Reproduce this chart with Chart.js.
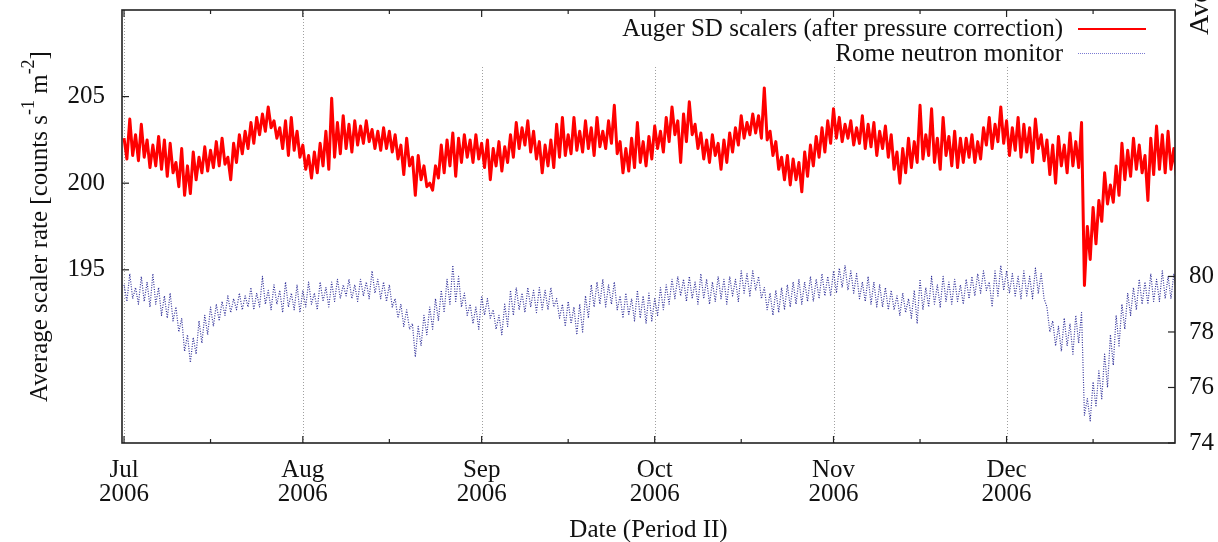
<!DOCTYPE html>
<html>
<head>
<meta charset="utf-8">
<title>Auger SD scalers and Rome neutron monitor, period II</title>
<script src="https://cdn.jsdelivr.net/npm/chart.js@4.4.1/dist/chart.umd.min.js"></script>
<style>
  html, body { margin: 0; padding: 0; background: #fff; }
  #wrap { width: 1218px; height: 542px; }
</style>
</head>
<body>
<div id="wrap"><canvas id="scalerChart" width="1218" height="542"></canvas></div>
<script>
// ===== DATA =====
// one sample every half day, day 0 = 2006-07-01
const sampleStep = 0.5;

// Auger SD scaler rate, counts s^-1 m^-2 (left axis)
const augerRate = [
  202.6,201.4, 203.7,201.6, 202.8,201.3, 203.4,201.5, 202.5,200.9, 202.2,201.0, 202.7,200.8, 202.5,200.4, 202.3,200.6, 201.2,199.8,
  202.0,199.3, 201.0,199.4, 201.8,200.2, 201.5,200.6, 202.1,200.7, 201.9,200.9, 202.4,201.0, 202.6,201.1, 201.5,200.2, 202.3,201.2,
  202.8,201.7, 203.0,202.0, 203.5,202.3, 203.8,202.8, 204.0,203.0, 204.4,203.2, 203.6,202.6, 203.2,202.0, 203.6,201.6, 203.8,201.9,
  203.0,201.5, 202.2,200.8, 201.6,200.3, 201.8,200.6, 202.3,201.0, 203.0,200.8, 204.9,201.5, 203.5,201.7, 203.9,202.0, 203.4,201.8,
  203.6,202.2, 203.3,202.3, 203.6,202.4, 203.1,202.0, 203.0,201.9, 203.2,202.0, 203.0,201.8, 202.8,201.4, 202.2,200.5, 202.6,201.0,
  201.5,199.3, 201.6,200.2, 201.0,199.8, 200.0,199.6, 201.0,200.3, 202.2,200.6, 202.5,201.0, 202.9,200.4, 202.6,201.2, 202.8,201.5,
  202.5,201.2, 202.8,201.4, 202.3,200.9, 202.5,200.2, 202.0,201.0, 202.4,200.7, 202.1,201.2, 202.8,201.5, 203.5,202.0, 203.2,202.2,
  203.6,201.8, 203.0,201.4, 202.4,200.6, 202.2,201.0, 202.5,200.9, 203.4,201.5, 203.8,201.6, 202.8,201.7, 203.8,201.9, 203.0,201.8,
  203.6,202.0, 203.2,201.6, 203.8,202.1, 203.0,202.0, 203.6,202.3, 204.5,201.7, 202.4,200.6, 202.0,200.7, 202.6,200.9, 203.5,201.2,
  202.4,201.0, 202.7,201.4, 203.3,202.0, 203.0,201.8, 203.8,202.4, 204.4,202.8, 203.6,201.2, 204.0,202.4, 204.7,202.8, 203.4,202.0,
  202.9,201.4, 202.5,201.2, 202.8,201.6, 202.3,200.8, 202.5,201.2, 202.9,201.8, 203.2,202.2, 203.9,202.6, 203.5,202.8, 204.0,202.9,
  203.9,202.6, 205.5,202.5, 203.0,201.6, 202.4,200.8, 201.5,200.2, 201.6,199.9, 201.4,200.2, 201.2,199.5, 201.8,200.4, 202.2,201.0,
  202.7,201.5, 203.2,201.8, 203.6,202.3, 204.3,202.6, 203.8,202.4, 203.4,202.6, 203.6,202.2, 203.2,202.3, 203.9,202.0, 203.4,202.1,
  203.5,201.6, 203.0,202.0, 203.3,201.5, 202.8,200.8, 201.8,200.0, 202.0,200.6, 202.6,200.9, 202.4,201.2, 204.5,201.4, 202.8,201.6,
  204.3,201.2, 202.6,200.8, 203.8,201.6, 202.7,201.0, 203.0,200.9, 202.6,201.2, 202.6,201.5, 202.8,201.2, 202.4,201.4, 203.2,202.2,
  203.8,202.0, 203.4,202.4, 204.4,202.3, 203.6,201.6, 203.2,201.9, 203.8,201.5, 203.4,201.8, 203.2,201.2, 203.7,202.0, 202.8,201.3,
  202.5,200.5, 202.2,200.0, 202.7,201.0, 202.2,200.6, 202.9,201.0, 202.4,200.9, 203.5,194.1, 197.5,195.6, 198.6,196.5, 199.0,197.8,
  200.6,198.8, 199.9,198.9, 201.0,199.3, 202.3,200.2, 201.9,200.4, 202.6,200.8, 202.2,200.6, 201.6,199.0, 202.6,200.5, 203.3,200.8,
  202.8,200.6, 203.0,200.8, 202.0,200.2
];

// Rome neutron monitor rate (right axis)
const romeRate = [
  79.7,79.1, 80.1,79.2, 79.6,79.0, 80.0,79.1, 79.8,78.9, 80.1,79.0, 79.6,78.6, 79.3,78.5, 79.4,78.4, 78.9,78.0,
  78.5,77.3, 77.9,76.9, 77.8,77.2, 78.4,77.6, 78.6,77.9, 78.9,78.2, 79.0,78.4, 79.1,78.6, 79.3,78.7, 79.2,78.8,
  79.4,78.8, 79.3,78.9, 79.6,78.8, 79.4,78.9, 80.0,79.0, 79.5,78.8, 79.7,79.0, 79.5,78.7, 79.8,78.9, 79.4,78.8,
  79.7,78.7, 79.5,78.9, 79.8,79.0, 79.4,78.8, 79.8,79.1, 79.6,78.9, 79.8,79.1, 79.9,79.2, 79.7,79.3, 79.9,79.2,
  79.7,79.1, 79.9,79.3, 79.8,79.2, 80.2,79.4, 79.9,79.2, 79.8,79.1, 79.7,78.9, 79.2,78.5, 79.0,78.2, 78.8,78.1,
  78.3,77.1, 78.2,77.5, 78.6,77.9, 78.9,78.1, 79.2,78.4, 79.5,78.7, 79.9,79.0, 80.4,79.1, 80.0,78.9, 79.4,78.6,
  79.0,78.3, 78.9,78.1, 79.3,78.6, 79.2,78.5, 78.8,78.1, 78.6,77.9, 79.0,78.2, 79.5,78.6, 79.6,78.8, 79.4,78.7,
  79.6,78.9, 79.5,78.7, 79.6,78.8, 79.5,78.8, 79.6,78.9, 79.2,78.5, 79.0,78.2, 79.1,78.3, 78.9,77.9, 79.0,78.0,
  79.3,78.5, 79.7,78.9, 79.8,79.0, 79.9,78.9, 79.7,79.0, 79.8,78.8, 79.3,78.5, 79.4,78.6, 79.2,78.4, 79.5,78.5,
  79.3,78.3, 79.4,78.4, 79.2,78.6, 79.6,78.8, 79.7,79.0, 79.9,79.2, 80.0,79.3, 79.9,79.1, 80.0,79.2, 79.8,79.0,
  80.1,79.2, 79.9,79.0, 79.8,79.1, 80.0,79.2, 79.9,79.0, 80.0,79.3, 79.9,79.1, 80.2,79.4, 80.1,79.3, 80.2,79.5,
  80.0,79.2, 79.6,78.8, 79.4,78.6, 79.5,78.7, 79.6,78.8, 79.7,78.9, 79.8,79.0, 79.9,79.0, 79.8,79.1, 80.0,79.1,
  79.9,79.2, 80.1,79.3, 80.0,79.3, 80.2,79.4, 80.3,79.6, 80.4,79.5, 80.2,79.4, 80.1,79.2, 79.8,79.1, 80.0,79.0,
  79.8,78.9, 79.7,78.9, 79.6,78.8, 79.5,78.8, 79.3,78.6, 79.4,78.7, 79.2,78.5, 79.5,78.3, 79.9,78.8, 79.6,78.9,
  80.0,79.0, 79.7,78.9, 80.0,79.1, 79.8,79.0, 79.9,79.1, 79.7,79.0, 79.9,79.2, 80.0,79.3, 80.1,79.4, 80.2,79.5,
  79.8,78.9, 80.2,79.3, 80.4,79.5, 80.2,79.4, 80.1,79.3, 80.0,79.2, 80.2,79.3, 80.0,79.2, 80.3,79.4, 80.1,79.2,
  78.9,78.0, 78.4,77.5, 78.2,77.3, 78.5,77.5, 78.3,77.2, 78.6,77.6, 78.7,75.0, 75.6,74.8, 76.2,75.3, 76.6,75.6,
  77.2,76.0, 77.9,76.8, 78.6,77.5, 79.0,78.1, 79.4,78.6, 79.6,78.8, 79.9,79.0, 79.8,79.0, 80.1,79.1, 79.9,79.1,
  80.2,79.2, 80.0,79.2, 80.1,79.4
];

// x axis: day numbers of month starts and the mid-month minor ticks
const monthDays = [0, 31, 62, 92, 123, 153];
const monthLabels = [["Jul", "2006"], ["Aug", "2006"], ["Sep", "2006"], ["Oct", "2006"], ["Nov", "2006"], ["Dec", "2006"]];
const midMonthDays = [15, 46, 77, 107, 138, 168];

const scalerTicks = [195, 200, 205];
const neutronTicks = [74, 76, 78, 80];

const seriesNames = ["Auger SD scalers (after pressure correction)", "Rome neutron monitor"];

// ===== STYLE =====
const serif = '"Liberation Serif", "DejaVu Serif", serif';
const FONT = "25px " + serif;
const RED = "#ff0000";
const NAVY = "rgba(0, 0, 130, 0.8)";

const toPoints = arr => arr.map((v, i) => ({ x: i * sampleStep, y: v }));

// ===== FRAME, TICKS, LABELS (gnuplot look) =====
function drawLeftTitle(ctx, cx, cy) {
  const parts = [["Average scaler rate [counts s", 0], ["-1", 1], [" m", 0], ["-2", 1], ["]", 0]];
  const fontFor = sup => (sup ? "18px " : "25px ") + serif;
  let total = 0;
  parts.forEach(([t, sup]) => { ctx.font = fontFor(sup); total += ctx.measureText(t).width; });
  ctx.save();
  ctx.translate(cx, cy);
  ctx.rotate(-Math.PI / 2);
  ctx.textAlign = "left";
  ctx.textBaseline = "alphabetic";
  let x = -total / 2;
  parts.forEach(([t, sup]) => {
    ctx.font = fontFor(sup);
    ctx.fillText(t, x, sup ? -13 : 0);
    x += ctx.measureText(t).width;
  });
  ctx.restore();
}

const gnuplotFrame = {
  id: "gnuplotFrame",
  beforeDatasetsDraw(chart) {
    const { ctx, chartArea: a, scales } = chart;
    ctx.save();
    // dotted vertical grid at month starts
    ctx.strokeStyle = "#a0a0a0";
    ctx.lineWidth = 1;
    ctx.setLineDash([1, 2]);
    monthDays.forEach(d => {
      const px = Math.round(scales.x.getPixelForValue(d)) + 0.5;
      ctx.beginPath();
      ctx.moveTo(px, a.bottom);
      ctx.lineTo(px, a.top);
      ctx.stroke();
    });
    ctx.setLineDash([]);
    // opaque key box
    ctx.fillStyle = "#fff";
    ctx.fillRect(440, a.top + 1, a.right - 440 - 1, 56);
    ctx.restore();
  },
  afterDraw(chart) {
    const { ctx, chartArea: a, scales } = chart;
    ctx.save();
    ctx.strokeStyle = "#222";
    ctx.fillStyle = "#111";

    // tick marks, pointing inwards
    ctx.lineWidth = 1.2;
    const tick = (x1, y1, x2, y2) => { ctx.beginPath(); ctx.moveTo(x1, y1); ctx.lineTo(x2, y2); ctx.stroke(); };
    monthDays.forEach(d => {
      const px = scales.x.getPixelForValue(d);
      tick(px, a.bottom, px, a.bottom - 7);
      tick(px, a.top, px, a.top + 7);
    });
    midMonthDays.forEach(d => {
      const px = scales.x.getPixelForValue(d);
      tick(px, a.bottom, px, a.bottom - 4);
      tick(px, a.top, px, a.top + 4);
    });
    scalerTicks.forEach(v => {
      const py = scales.y.getPixelForValue(v);
      tick(a.left, py, a.left + 7, py);
    });
    neutronTicks.forEach(v => {
      const py = scales.y2.getPixelForValue(v);
      tick(a.right, py, a.right - 7, py);
    });

    // plot border
    ctx.lineWidth = 1.6;
    ctx.strokeRect(a.left, a.top, a.right - a.left, a.bottom - a.top);

    // tick labels
    ctx.font = FONT;
    ctx.textBaseline = "middle";
    ctx.textAlign = "right";
    scalerTicks.forEach(v => ctx.fillText(String(v), a.left - 17, scales.y.getPixelForValue(v)));
    ctx.textAlign = "left";
    neutronTicks.forEach(v => ctx.fillText(String(v), a.right + 14, scales.y2.getPixelForValue(v)));
    ctx.textAlign = "center";
    monthDays.forEach((d, i) => {
      const px = scales.x.getPixelForValue(d);
      ctx.fillText(monthLabels[i][0], px, a.bottom + 27);
      ctx.fillText(monthLabels[i][1], px, a.bottom + 51);
    });

    // axis titles
    ctx.fillText("Date (Period II)", (a.left + a.right) / 2, a.bottom + 87);
    drawLeftTitle(ctx, 47, (a.top + a.bottom) / 2);
    ctx.save();
    ctx.translate(1208, 35);
    ctx.rotate(-Math.PI / 2);
    ctx.font = "28px " + serif;
    ctx.textAlign = "left";
    ctx.textBaseline = "alphabetic";
    ctx.fillText("Average neutron monitor rate", 0, 0);
    ctx.restore();

    // key
    ctx.font = FONT;
    ctx.textAlign = "right";
    ctx.textBaseline = "middle";
    ctx.fillText(seriesNames[0], 1063, 29);
    ctx.fillText(seriesNames[1], 1063, 54);
    ctx.strokeStyle = RED;
    ctx.lineWidth = 2.2;
    tick(1078, 29, 1146, 29);
    ctx.strokeStyle = "rgba(90, 90, 200, 0.8)";
    ctx.lineWidth = 1;
    ctx.setLineDash([1, 1]);
    tick(1078, 53.5, 1146, 53.5);
    ctx.restore();
  }
};

// ===== CHART =====
new Chart(document.getElementById("scalerChart"), {
  type: "line",
  data: {
    datasets: [
      {
        label: seriesNames[0],
        data: toPoints(augerRate),
        yAxisID: "y",
        borderColor: RED,
        borderWidth: 3,
        borderJoinStyle: "round",
        pointRadius: 0,
        tension: 0,
        order: 1
      },
      {
        label: seriesNames[1],
        data: toPoints(romeRate),
        yAxisID: "y2",
        borderColor: NAVY,
        borderWidth: 1.2,
        borderJoinStyle: "round",
        borderDash: [1, 1.5],
        pointRadius: 0,
        tension: 0,
        order: 2
      }
    ]
  },
  options: {
    responsive: false,
    animation: false,
    devicePixelRatio: 1,
    layout: { padding: { top: 10, left: 0, right: 0, bottom: 0 } },
    plugins: { legend: { display: false }, tooltip: { enabled: false } },
    scales: {
      x: {
        type: "linear",
        min: -0.35,
        max: 182.2,
        grid: { display: false },
        border: { display: false },
        ticks: { display: false },
        afterFit: s => { s.height = 99; }
      },
      y: {
        position: "left",
        min: 185,
        max: 210,
        grid: { display: false },
        border: { display: false },
        ticks: { display: false },
        afterFit: s => { s.width = 122; }
      },
      y2: {
        position: "right",
        min: 74,
        max: 89.6,
        grid: { display: false },
        border: { display: false },
        ticks: { display: false },
        afterFit: s => { s.width = 43; }
      }
    }
  },
  plugins: [gnuplotFrame]
});
</script>
</body>
</html>
